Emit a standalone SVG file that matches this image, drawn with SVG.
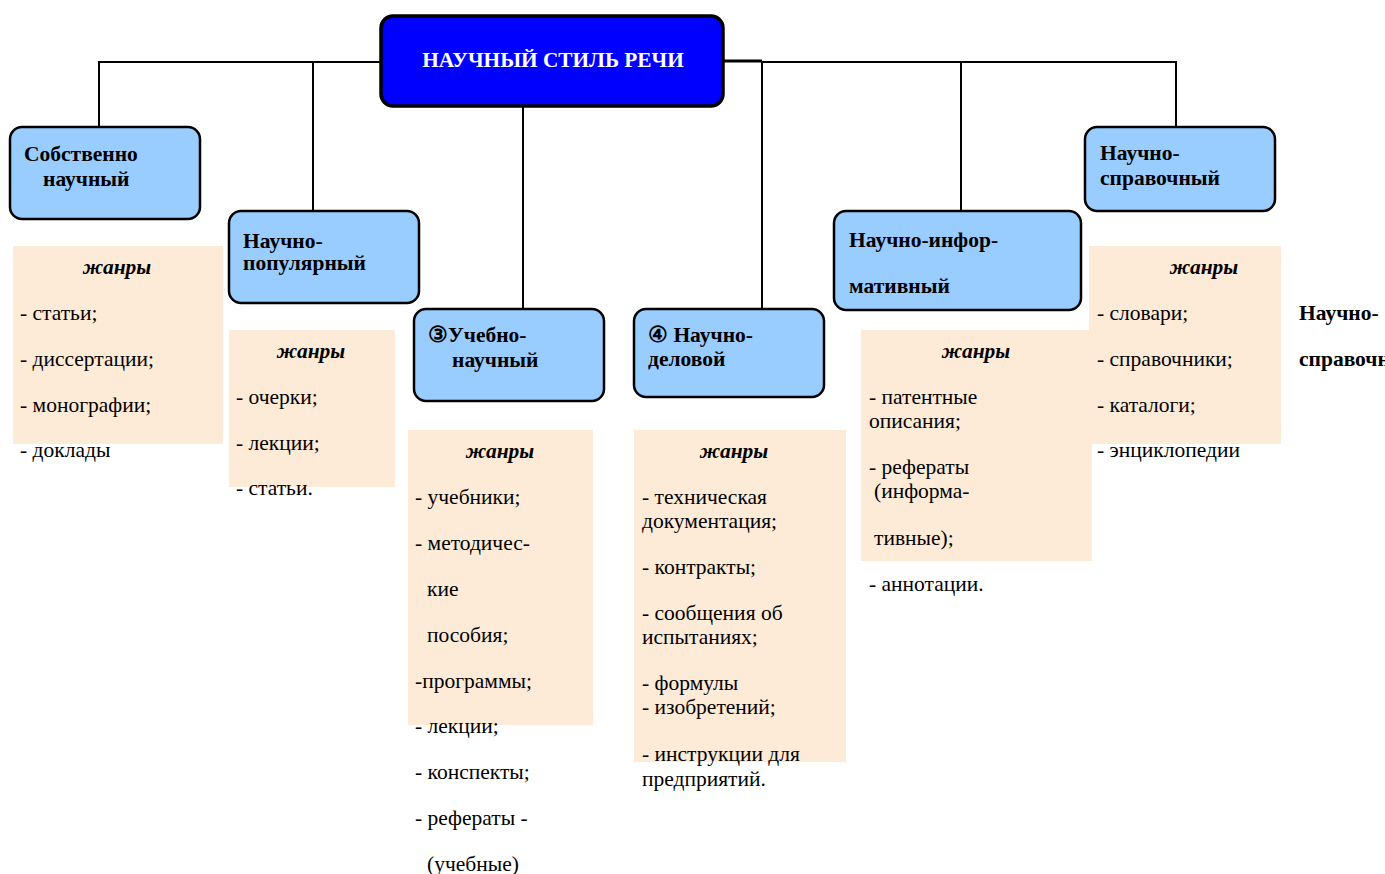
<svg xmlns="http://www.w3.org/2000/svg" width="1385" height="874" viewBox="0 0 1385 874">
<style>
.node{fill:#99CCFF;stroke:#000;stroke-width:2.5}
.main{fill:#0000FF;stroke:#000;stroke-width:3.5}
.genre{fill:#FDEBD7;stroke:none}
.ln{stroke:#000;stroke-width:2;fill:none}
.t{font-family:"Liberation Serif","Times New Roman",serif;font-size:21.5px;fill:#000}
.b{font-family:"Liberation Serif","Times New Roman",serif;font-size:21.5px;font-weight:bold;fill:#000}
.h{font-family:"Liberation Serif","Times New Roman",serif;font-size:21.5px;font-weight:bold;font-style:italic;fill:#000;text-anchor:middle}
.title{font-family:"Liberation Serif","Times New Roman",serif;font-size:21.3px;font-weight:bold;fill:#fff;text-anchor:middle}
</style>
<rect width="1385" height="874" fill="#fff"/>
<g id="connectors">
<polyline class="ln" points="99,127 99,62 381,62"/>
<line class="ln" x1="313" y1="62" x2="313" y2="211"/>
<line class="ln" x1="523" y1="106" x2="523" y2="309"/>
<polyline class="ln" points="723,61 762,61" style="stroke-width:3"/>
<polyline class="ln" points="762,309 762,62 1176,62 1176,127"/>
<line class="ln" x1="961" y1="62" x2="961" y2="211"/>
</g>
<g id="main">
<rect class="main" x="381" y="16" width="342" height="90" rx="12"/>
<text class="title" x="553" y="67">НАУЧНЫЙ СТИЛЬ РЕЧИ</text>
</g>
<g id="genres-1">
<rect class="genre" x="13" y="246" width="210" height="198"/>
<text class="h" x="117" y="274">жанры</text>
<text class="t" x="20" y="320">- статьи;</text>
<text class="t" x="20" y="366">- диссертации;</text>
<text class="t" x="20" y="412">- монографии;</text>
<text class="t" x="20" y="457">- доклады</text>
</g>
<g id="genres-2">
<rect class="genre" x="229" y="330" width="166" height="157"/>
<text class="h" x="311" y="358">жанры</text>
<text class="t" x="236" y="404">- очерки;</text>
<text class="t" x="236" y="450">- лекции;</text>
<text class="t" x="236" y="495">- статьи.</text>
</g>
<g id="genres-3">
<rect class="genre" x="408" y="430" width="185" height="295"/>
<text class="h" x="500" y="458">жанры</text>
<text class="t" x="415" y="504">- учебники;</text>
<text class="t" x="415" y="550">- методичес-</text>
<text class="t" x="427" y="596">кие</text>
<text class="t" x="427" y="642">пособия;</text>
<text class="t" x="415" y="688">-программы;</text>
<text class="t" x="415" y="733">- лекции;</text>
<text class="t" x="415" y="779">- конспекты;</text>
<text class="t" x="415" y="825">- рефераты -</text>
<text class="t" x="427" y="871">(учебные)</text>
</g>
<g id="genres-4">
<rect class="genre" x="634" y="430" width="212" height="332"/>
<text class="h" x="734" y="458">жанры</text>
<text class="t" x="642" y="504">- техническая</text>
<text class="t" x="642" y="528">документация;</text>
<text class="t" x="642" y="574">- контракты;</text>
<text class="t" x="642" y="620">- сообщения об</text>
<text class="t" x="642" y="644">испытаниях;</text>
<text class="t" x="642" y="690">- формулы</text>
<text class="t" x="642" y="714">- изобретений;</text>
<text class="t" x="642" y="761">- инструкции для</text>
<text class="t" x="642" y="786">предприятий.</text>
</g>
<g id="genres-5">
<rect class="genre" x="861" y="330" width="231" height="231"/>
<text class="h" x="976" y="358">жанры</text>
<text class="t" x="869" y="404">- патентные</text>
<text class="t" x="869" y="428">описания;</text>
<text class="t" x="869" y="474">- рефераты</text>
<text class="t" x="874" y="498">(информа-</text>
<text class="t" x="874" y="545">тивные);</text>
<text class="t" x="869" y="591">- аннотации.</text>
</g>
<g id="genres-6">
<rect class="genre" x="1089" y="246" width="192" height="198"/>
<text class="h" x="1204" y="274">жанры</text>
<text class="t" x="1097" y="320">- словари;</text>
<text class="t" x="1097" y="366">- справочники;</text>
<text class="t" x="1097" y="412">- каталоги;</text>
<text class="t" x="1097" y="457">- энциклопедии</text>
<text class="b" x="1299" y="320">Научно-</text>
<text class="b" x="1299" y="366">справочный</text>
</g>
<g id="node-1">
<rect class="node" x="10" y="127" width="190" height="92" rx="12"/>
<text class="b" x="24" y="161">Собственно</text>
<text class="b" x="43" y="186">научный</text>
</g>
<g id="node-2">
<rect class="node" x="229" y="211" width="190" height="92" rx="12"/>
<text class="b" x="243" y="248">Научно-</text>
<text class="b" x="243" y="270">популярный</text>
</g>
<g id="node-3">
<rect class="node" x="414" y="309" width="190" height="92" rx="12"/>
<text class="b" x="428" y="342">③Учебно-</text>
<text class="b" x="452" y="367">научный</text>
</g>
<g id="node-4">
<rect class="node" x="634" y="309" width="190" height="88" rx="12"/>
<text class="b" x="648" y="342">④ Научно-</text>
<text class="b" x="648" y="366">деловой</text>
</g>
<g id="node-5">
<rect class="node" x="834" y="211" width="247" height="99" rx="12"/>
<text class="b" x="849" y="247">Научно-инфор-</text>
<text class="b" x="849" y="293">мативный</text>
</g>
<g id="node-6">
<rect class="node" x="1085" y="127" width="190" height="84" rx="12"/>
<text class="b" x="1100" y="160">Научно-</text>
<text class="b" x="1100" y="185">справочный</text>
</g>
</svg>
